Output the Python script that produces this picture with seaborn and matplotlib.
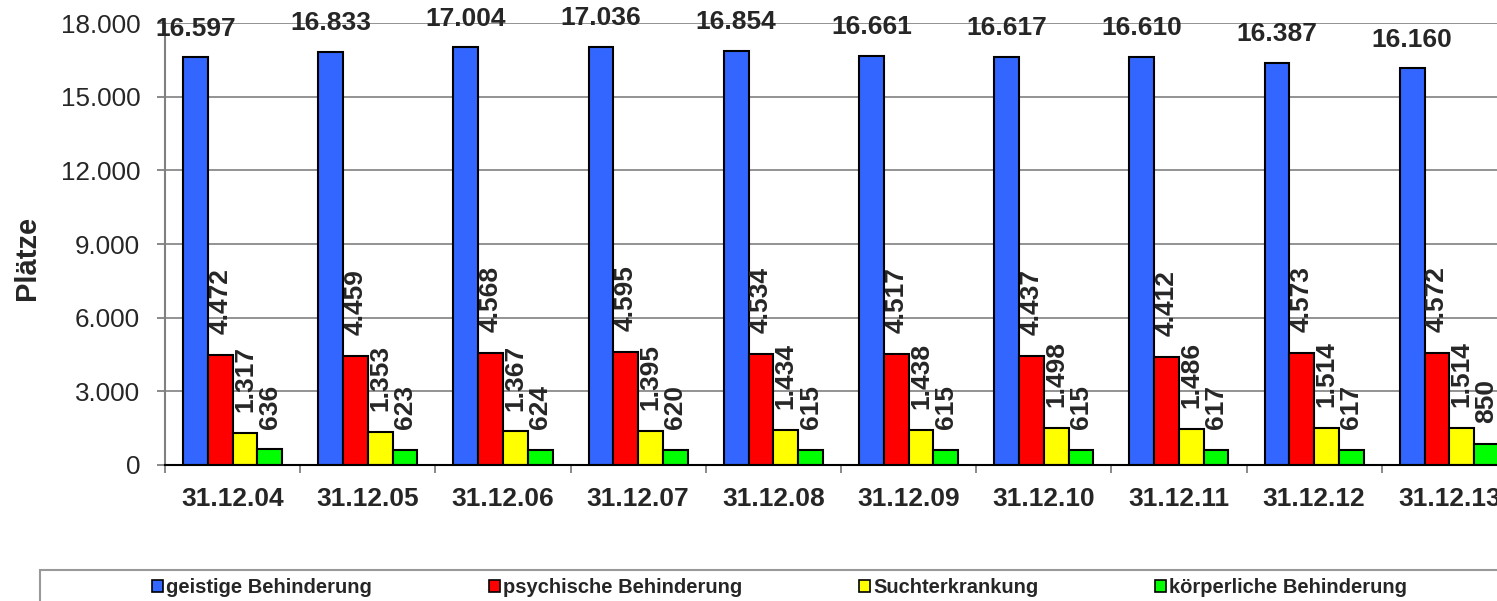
import numpy as np
import pandas as pd
import seaborn as sns
import matplotlib.pyplot as plt
from matplotlib.patches import Patch, Rectangle
from matplotlib.ticker import FuncFormatter, FixedLocator

# Daten
stichtage = ["31.12.04", "31.12.05", "31.12.06", "31.12.07", "31.12.08",
             "31.12.09", "31.12.10", "31.12.11", "31.12.12", "31.12.13"]
geistig = [16597, 16833, 17004, 17036, 16854, 16661, 16617, 16610, 16387, 16160]
psychisch = [4472, 4459, 4568, 4595, 4534, 4517, 4437, 4412, 4573, 4572]
sucht = [1317, 1353, 1367, 1395, 1434, 1438, 1498, 1486, 1514, 1514]
koerperlich = [636, 623, 624, 620, 615, 615, 615, 617, 617, 850]

arten = ["geistige Behinderung", "psychische Behinderung",
         "Suchterkrankung", "körperliche Behinderung"]
farben = ["#3366FF", "#FF0000", "#FFFF00", "#00FF00"]

df = pd.DataFrame({
    "Stichtag": stichtage * 4,
    "Art": np.repeat(arten, len(stichtage)),
    "Plätze": geistig + psychisch + sucht + koerperlich,
})


def deutsch(v, pos=None):
    return f"{v:,.0f}".replace(",", ".")


sns.set_theme(style="white")
plt.rcParams["font.family"] = ["Liberation Sans", "DejaVu Sans"]

fig = plt.figure(figsize=(14.97, 6.01), dpi=100)
ax = fig.add_axes([0.1102, 0.2263, 0.9031, 0.7354])

sns.barplot(data=df, x="Stichtag", y="Plätze", hue="Art", order=stichtage,
            hue_order=arten, palette=dict(zip(arten, farben)), saturation=1,
            width=0.733, edgecolor="black", linewidth=1.5, legend=False, ax=ax)

# Achsen
ax.set_xlim(-0.5, 9.5)
ax.set_ylim(0, 18000)
ax.set_yticks(range(0, 18001, 3000))
ax.yaxis.set_major_formatter(FuncFormatter(deutsch))
ax.grid(axis="y", color="#8a8a8a", linewidth=1.3)
ax.set_axisbelow(True)
for s in ["top", "right"]:
    ax.spines[s].set_visible(False)
ax.spines["left"].set_color("#808080")
ax.spines["left"].set_linewidth(1.5)
ax.spines["bottom"].set_color("black")
ax.spines["bottom"].set_linewidth(1.5)

ax.tick_params(axis="y", left=True, length=5.8, width=1.3, color="#808080",
               pad=12, labelsize=18.7)
ax.tick_params(axis="x", which="major", length=0, pad=16, labelsize=19)
ax.xaxis.set_minor_locator(FixedLocator(np.arange(-0.5, 10, 1)))
ax.tick_params(axis="x", which="minor", bottom=True, length=6, width=1.3,
               color="#808080")
for lbl in ax.get_xticklabels():
    lbl.set_fontweight("bold")

ax.set_xlabel("")
ax.set_ylabel("Plätze", fontsize=21, fontweight="bold")
ax.yaxis.set_label_coords(-0.092, 0.468)

# Werte an den Balken
for i, cont in enumerate(ax.containers):
    ax.bar_label(cont, labels=[deutsch(b.get_height()) for b in cont],
                 padding=12 if i == 0 else 15, fontsize=19, fontweight="bold",
                 rotation=0 if i == 0 else 90)

# Legende
handles = [Patch(facecolor=f, edgecolor="black", linewidth=1.2, label=a)
           for a, f in zip(arten, farben)]
fig.legend(handles=handles, loc="center left", bbox_to_anchor=(0.1015, 0.022),
           ncol=4, frameon=False, prop=dict(size=14.5, weight="bold"),
           handlelength=0.55, handleheight=0.55, handletextpad=0.15,
           columnspacing=5.8, borderpad=0, borderaxespad=0)
fig.add_artist(Rectangle((40 / 1497, -0.05), 1.2, 0.0516 + 0.05,
                         transform=fig.transFigure, fill=False,
                         edgecolor="#999999", linewidth=1.5))

plt.savefig("out.png", dpi=100)
